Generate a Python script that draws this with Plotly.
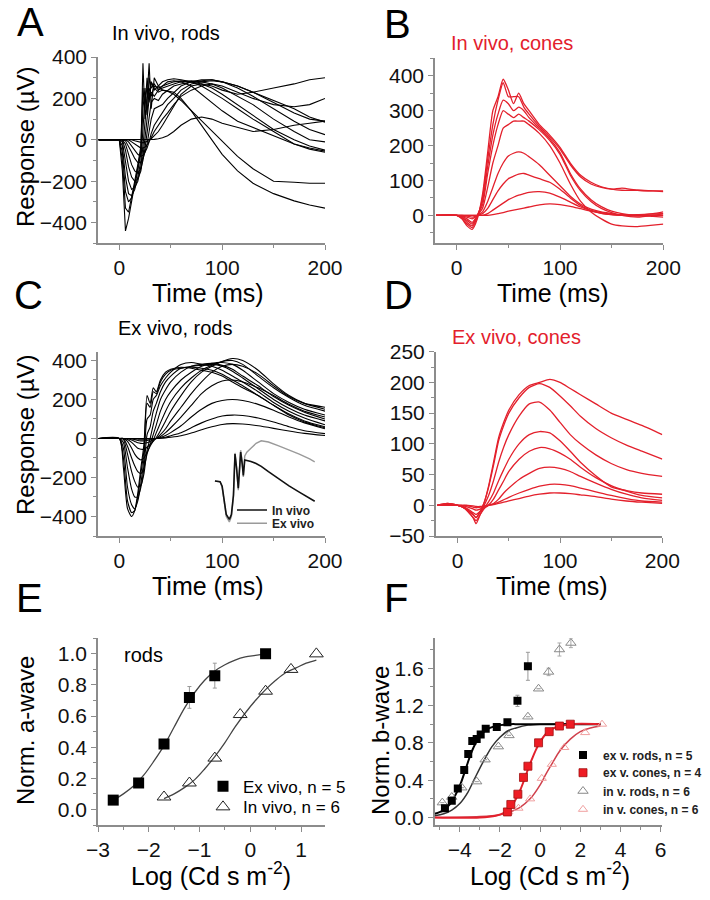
import plotly.graph_objects as go

W, H = 710, 900
FONT = "Liberation Sans, Arial, sans-serif"
RED = "#e3202c"

# ---------------- Panel A: in vivo rods (time ms, response uV) ----------------
tA = [-20, 0, 3, 6, 9, 12, 15, 18, 21, 23, 25, 27, 29, 31, 34, 38, 42, 47, 53, 60,
      70, 80, 90, 100, 115, 130, 150, 170, 185, 200]
A_rods_invivo = [
    [0, 0, -150, -440, -380, -300, -220, -150, -50, 370, 100, 200, 370, 150, 300, 260, 240, 235, 230, 200, 140, 70, 0, -70, -150, -210, -260, -295, -315, -330],
    [0, 0, -100, -330, -350, -280, -200, -120, -30, 250, 150, 300, 200, 280, 250, 230, 240, 235, 220, 190, 140, 90, 40, -10, -80, -140, -200, -205, -210, -210],
    [0, 0, -60, -250, -300, -280, -220, -150, -60, 150, 250, 120, 300, 250, 270, 240, 260, 280, 285, 280, 260, 220, 180, 140, 90, 60, 20, -20, -40, -55],
    [0, 0, -30, -180, -260, -270, -240, -180, -100, 50, 200, 250, 180, 280, 240, 260, 280, 290, 295, 290, 280, 260, 230, 200, 150, 100, 40, -20, -45, -60],
    [0, 0, -10, -100, -200, -240, -230, -200, -130, -30, 100, 200, 250, 210, 260, 250, 260, 270, 280, 285, 280, 270, 250, 220, 170, 120, 50, 0, -30, -50],
    [0, 0, 0, -50, -130, -180, -200, -190, -150, -80, 0, 100, 200, 230, 210, 240, 250, 260, 270, 280, 285, 280, 270, 250, 210, 170, 100, 40, 0, -10],
    [0, 0, 0, -20, -70, -120, -150, -160, -140, -100, -40, 30, 120, 180, 200, 190, 220, 240, 260, 270, 280, 285, 290, 280, 250, 210, 150, 90, 50, 25],
    [0, 0, 0, -5, -30, -60, -90, -110, -110, -90, -60, -20, 40, 100, 150, 160, 170, 200, 230, 260, 280, 290, 290, 280, 260, 230, 180, 130, 100, 90],
    [0, 0, 0, 0, -10, -30, -50, -70, -80, -75, -60, -40, -10, 30, 70, 100, 130, 170, 200, 240, 270, 280, 285, 280, 260, 230, 190, 150, 110, 85],
    [0, 0, 0, 0, 0, -10, -20, -30, -40, -40, -35, -25, -10, 10, 40, 70, 100, 130, 170, 210, 240, 260, 270, 260, 230, 200, 170, 160, 170, 200],
    [0, 0, 0, 0, 0, 0, -5, -10, -15, -15, -12, -8, -3, 5, 20, 40, 70, 110, 160, 220, 260, 270, 260, 240, 220, 230, 250, 270, 290, 300],
    [0, 0, 0, 0, 0, 0, 0, 0, 0, 0, 0, 0, 0, 0, 2, 5, 10, 20, 40, 70, 100, 110, 100, 80, 60, 40, 50, 70, 80, 90],
]

# ---------------- Panel B: in vivo cones ----------------
tB = [-20, 0, 5, 10, 15, 20, 25, 30, 35, 40, 45, 50, 55, 60, 65, 70, 80, 90, 100, 110,
      120, 130, 140, 150, 160, 175, 190, 200]
B_cones_invivo = [
    [0, 0, -10, -30, -40, -10, 60, 180, 300, 340, 390, 360, 320, 350, 320, 300, 260, 230, 195, 150, 115, 95, 82, 75, 72, 72, 70, 68],
    [0, 0, -8, -25, -35, -5, 50, 160, 260, 330, 380, 340, 340, 340, 310, 290, 255, 225, 190, 145, 110, 90, 80, 75, 78, 72, 70, 70],
    [0, 0, -5, -20, -30, 0, 40, 140, 230, 290, 330, 320, 300, 310, 300, 280, 250, 220, 180, 120, 75, 45, 25, 12, 5, 0, 5, 10],
    [0, 0, -5, -15, -25, 0, 30, 120, 200, 260, 300, 290, 280, 290, 280, 270, 245, 215, 175, 115, 70, 40, 20, 8, 0, -5, 0, 5],
    [0, 0, -3, -10, -20, 0, 20, 80, 150, 200, 250, 260, 270, 270, 270, 260, 235, 200, 150, 90, 40, 10, -10, -25, -30, -32, -28, -25],
    [0, 0, -2, -5, -10, 0, 10, 40, 80, 120, 150, 170, 178, 182, 178, 168, 145, 115, 85, 55, 32, 18, 10, 5, 0, 0, -3, -5],
    [0, 0, 0, -2, -5, 0, 5, 20, 45, 70, 90, 105, 112, 118, 120, 115, 105, 95, 75, 50, 28, 14, 6, 2, 0, 0, 0, 0],
    [0, 0, 0, 0, 0, 0, 0, 5, 15, 25, 35, 45, 52, 58, 62, 66, 68, 64, 52, 38, 24, 14, 8, 4, 2, 2, 4, 5],
    [0, 0, 0, 0, 0, 0, 0, 0, 2, 5, 8, 12, 15, 18, 21, 24, 30, 33, 31, 26, 19, 12, 6, 2, 0, -2, 0, 0],
]

# ---------------- Panel C: ex vivo rods ----------------
tC = [-20, 0, 4, 8, 12, 15, 18, 21, 24, 27, 30, 33, 36, 40, 45, 50, 60, 70, 80, 90,
      100, 110, 120, 135, 150, 165, 180, 200]
C_rods_exvivo = [
    [0, 0, -150, -360, -400, -370, -280, -150, -30, 220, 180, 260, 240, 300, 340, 355, 365, 360, 350, 340, 320, 290, 260, 220, 170, 120, 85, 55],
    [0, 0, -100, -320, -380, -370, -300, -180, -60, 180, 160, 240, 230, 290, 330, 350, 360, 365, 360, 350, 330, 300, 270, 220, 170, 125, 90, 60],
    [0, 0, -50, -250, -340, -360, -320, -230, -100, 100, 120, 200, 220, 270, 310, 340, 380, 390, 380, 370, 350, 320, 290, 240, 185, 140, 105, 70],
    [0, 0, -20, -150, -260, -300, -300, -250, -150, 20, 60, 140, 180, 240, 290, 320, 360, 370, 375, 380, 370, 345, 310, 255, 200, 155, 120, 90],
    [0, 0, -5, -80, -170, -220, -250, -240, -180, -60, 0, 70, 130, 200, 250, 290, 340, 370, 380, 385, 375, 355, 320, 270, 215, 170, 135, 100],
    [0, 0, 0, -40, -100, -140, -170, -180, -150, -80, -30, 20, 70, 140, 200, 240, 300, 340, 370, 385, 390, 380, 350, 290, 230, 185, 150, 120],
    [0, 0, 0, -15, -50, -80, -100, -110, -100, -70, -40, -10, 30, 80, 140, 190, 260, 310, 350, 375, 395, 400, 380, 320, 260, 210, 170, 140],
    [0, 0, 0, -5, -20, -35, -50, -55, -55, -45, -30, -15, 5, 40, 90, 140, 220, 290, 340, 370, 395, 410, 400, 350, 280, 220, 180, 150],
    [0, 0, 0, 0, -8, -15, -22, -25, -25, -22, -15, -8, 0, 20, 50, 90, 160, 230, 290, 340, 370, 380, 370, 330, 270, 215, 180, 160],
    [0, 0, 0, 0, -3, -6, -10, -12, -12, -10, -7, -3, 0, 10, 30, 55, 110, 170, 230, 270, 295, 300, 290, 260, 220, 175, 140, 110],
    [0, 0, 0, 0, 0, -2, -3, -4, -4, -3, -2, -1, 0, 5, 15, 30, 65, 110, 150, 180, 195, 200, 195, 175, 145, 110, 80, 50],
    [0, 0, 0, 0, 0, 0, -1, -1, -1, -1, 0, 0, 0, 2, 6, 14, 30, 55, 80, 100, 115, 120, 118, 105, 85, 60, 40, 25],
    [0, 0, 0, 0, 0, 0, 0, 0, 0, 0, 0, 0, 0, 1, 3, 6, 14, 28, 45, 60, 72, 76, 74, 65, 52, 38, 26, 15],
]

# inset in panel C (in vivo vs ex vivo, offset traces)
inset_t = [93, 98, 100, 102, 104, 107, 109, 111, 112.5, 114, 115.7, 117, 118, 119.5, 120.6,
           122, 124, 128, 133, 138, 145, 155, 165, 175, 185, 190]
inset_exvivo = [-218, -222, -250, -330, -400, -428, -400, -300, -74, -150, -265, -150, -60, -120, -197,
                -90, -70, -50, -25, -12, -18, -38, -58, -80, -105, -120]
inset_invivo = [-218, -222, -245, -320, -390, -415, -390, -290, -80, -150, -255, -150, -70, -130, -190,
                -110, -112, -118, -128, -143, -170, -208, -243, -275, -306, -322]

# ---------------- Panel D: ex vivo cones ----------------
tD = [-20, -10, 0, 5, 10, 15, 18, 22, 26, 30, 35, 40, 45, 50, 60, 70, 80, 90, 100, 110,
      120, 135, 150, 165, 180, 200]
D_cones_exvivo = [
    [0, 3, 0, -3, -8, -15, -20, -10, 5, 30, 70, 110, 135, 155, 180, 195, 200, 205, 200, 190, 180, 165, 150, 140, 130, 115],
    [0, 3, 0, -3, -8, -15, -20, -10, 5, 28, 65, 105, 130, 150, 175, 192, 198, 192, 178, 162, 145, 125, 110, 98, 88, 75],
    [0, 2, 0, -3, -10, -20, -30, -15, 0, 15, 40, 70, 95, 115, 145, 165, 168, 155, 135, 115, 100, 82, 68, 58, 52, 47],
    [0, 2, 0, -3, -10, -20, -25, -15, -5, 5, 20, 40, 58, 75, 100, 115, 120, 118, 105, 88, 70, 48, 30, 24, 20, 18],
    [0, 1, 0, -2, -6, -12, -15, -10, -5, 0, 10, 25, 40, 55, 75, 88, 94, 92, 85, 75, 62, 45, 32, 23, 16, 12],
    [0, 1, 0, -1, -3, -6, -8, -6, -3, 0, 3, 10, 20, 28, 42, 52, 60, 62, 60, 55, 47, 36, 26, 18, 12, 8],
    [0, 0, 0, 0, -1, -3, -4, -3, -2, 0, 2, 5, 9, 13, 20, 26, 31, 34, 34, 32, 28, 22, 16, 11, 7, 5],
    [0, 0, 0, 0, 0, -1, -2, -2, -1, 0, 1, 3, 5, 7, 11, 15, 18, 20, 20, 19, 17, 14, 10, 7, 5, 3],
]

# ---------------- Panel E: normalized a-wave ----------------
E_ex_x = [-2.7, -2.2, -1.7, -1.2, -0.7, 0.3]
E_ex_y = [0.06, 0.17, 0.42, 0.72, 0.86, 1.0]
E_ex_err = [0, 0, 0, 0.07, 0.08, 0]
E_in_x = [-1.7, -1.2, -0.7, -0.2, 0.3, 0.8, 1.3]
E_in_y = [0.08, 0.17, 0.33, 0.61, 0.76, 0.90, 1.0]
E_fit_ex_x = [-2.7, -2.5, -2.3, -2.1, -1.9, -1.7, -1.5, -1.3, -1.1, -0.9, -0.7, -0.5, -0.3, -0.1, 0.1, 0.3]
E_fit_ex_y = [0.06, 0.10, 0.15, 0.22, 0.31, 0.41, 0.53, 0.65, 0.75, 0.83, 0.89, 0.93, 0.96, 0.98, 0.99, 1.0]
E_fit_in_x = [-1.7, -1.5, -1.3, -1.1, -0.9, -0.7, -0.5, -0.3, -0.1, 0.1, 0.3, 0.5, 0.7, 0.9, 1.1, 1.3]
E_fit_in_y = [0.07, 0.10, 0.14, 0.19, 0.26, 0.34, 0.43, 0.53, 0.62, 0.70, 0.77, 0.83, 0.88, 0.91, 0.94, 0.96]

# ---------------- Panel F: normalized b-wave ----------------
F_exrod_x = [-4.74, -4.40, -4.10, -3.78, -3.58, -3.38, -3.16, -2.96, -2.71, -2.16, -1.63, -1.13, -0.61]
F_exrod_y = [0.10, 0.18, 0.31, 0.51, 0.68, 0.82, 0.84, 0.89, 0.95, 0.97, 1.02, 1.25, 1.62]
F_exrod_err = [0, 0, 0, 0, 0, 0, 0, 0, 0, 0, 0, 0.06, 0.15]
F_excone_x = [-1.63, -1.46, -1.11, -0.83, -0.61, -0.08, 0.45, 0.96, 1.50]
F_excone_y = [0.06, 0.14, 0.25, 0.43, 0.55, 0.80, 0.92, 0.98, 1.0]
F_inrod_x = [-4.87, -4.40, -3.90, -3.16, -2.74, -2.08, -1.55, -0.61, -0.08, 0.42, 0.96, 1.53]
F_inrod_y = [0.16, 0.22, 0.32, 0.385, 0.62, 0.76, 0.88, 1.08, 1.38, 1.56, 1.80, 1.87]
F_inrod_err = [0, 0, 0, 0, 0, 0, 0, 0, 0, 0.04, 0.07, 0.05]
F_incone_x = [-1.58, -1.08, -0.50, 0.08, 0.58, 1.20, 2.24, 3.08]
F_incone_y = [0.06, 0.10, 0.20, 0.42, 0.57, 0.75, 0.91, 1.0]
F_fit_exrod_x = [-5.25, -4.8, -4.5, -4.2, -4.0, -3.8, -3.6, -3.4, -3.2, -3.0, -2.8, -2.5, -2.0, -1.5, -1.0, 3.0]
F_fit_exrod_y = [0.04, 0.08, 0.14, 0.25, 0.34, 0.46, 0.59, 0.71, 0.80, 0.87, 0.92, 0.96, 0.99, 1.0, 1.0, 1.0]
F_fit_inrod_x = [-5.25, -4.8, -4.4, -4.0, -3.6, -3.3, -3.0, -2.7, -2.4, -2.0, -1.6, -1.2, -0.6, 0.0, 3.0]
F_fit_inrod_y = [0.02, 0.04, 0.08, 0.15, 0.27, 0.40, 0.53, 0.65, 0.76, 0.86, 0.93, 0.96, 0.99, 1.0, 1.0]
F_fit_excone_x = [-5.25, -3.0, -2.2, -1.8, -1.5, -1.2, -1.0, -0.8, -0.6, -0.4, -0.2, 0.0, 0.3, 0.6, 1.0, 1.5, 3.0]
F_fit_excone_y = [0.0, 0.0, 0.02, 0.05, 0.10, 0.20, 0.29, 0.40, 0.52, 0.63, 0.73, 0.81, 0.90, 0.95, 0.98, 1.0, 1.0]
F_fit_incone_x = [-5.25, -3.0, -2.0, -1.5, -1.0, -0.5, 0.0, 0.3, 0.6, 1.0, 1.5, 2.0, 2.5, 3.0]
F_fit_incone_y = [0.0, 0.01, 0.03, 0.06, 0.11, 0.20, 0.35, 0.47, 0.58, 0.72, 0.84, 0.92, 0.96, 0.98]


def dx(a, b):
    return [a / W, b / W]


def dy(top, bottom):
    return [1 - bottom / H, 1 - top / H]


fig = go.Figure()

for v in A_rods_invivo:
    fig.add_trace(go.Scatter(x=tA, y=v, mode="lines", line=dict(color="black", width=1.1),
                             showlegend=False, xaxis="x", yaxis="y"))
for v in B_cones_invivo:
    fig.add_trace(go.Scatter(x=tB, y=v, mode="lines", line=dict(color=RED, width=1.3, shape="spline", smoothing=0.6),
                             showlegend=False, xaxis="x2", yaxis="y2"))
for v in C_rods_exvivo:
    fig.add_trace(go.Scatter(x=tC, y=v, mode="lines", line=dict(color="black", width=1.1, shape="spline", smoothing=0.6),
                             showlegend=False, xaxis="x3", yaxis="y3"))
fig.add_trace(go.Scatter(x=inset_t, y=inset_exvivo, mode="lines", name="Ex vivo",
                         line=dict(color="#9a9a9a", width=1.4), legend="legend8", xaxis="x3", yaxis="y3"))
fig.add_trace(go.Scatter(x=inset_t, y=inset_invivo, mode="lines", name="In vivo",
                         line=dict(color="#111111", width=1.6), legend="legend7", xaxis="x3", yaxis="y3"))
for v in D_cones_exvivo:
    fig.add_trace(go.Scatter(x=tD, y=v, mode="lines", line=dict(color=RED, width=1.3, shape="spline", smoothing=0.6),
                             showlegend=False, xaxis="x4", yaxis="y4"))

# Panel E
fig.add_trace(go.Scatter(x=E_fit_ex_x, y=E_fit_ex_y, mode="lines", line=dict(color="#444", width=1.3, shape="spline"),
                         showlegend=False, xaxis="x5", yaxis="y5"))
fig.add_trace(go.Scatter(x=E_fit_in_x, y=E_fit_in_y, mode="lines", line=dict(color="#444", width=1.3, shape="spline"),
                         showlegend=False, xaxis="x5", yaxis="y5"))
fig.add_trace(go.Scatter(x=E_ex_x, y=E_ex_y, mode="markers", name="Ex vivo, n = 5",
                         marker=dict(symbol="square", size=11, color="black"),
                         error_y=dict(type="data", array=E_ex_err, color="#999", thickness=1, width=2),
                         legend="legend", xaxis="x5", yaxis="y5"))
fig.add_trace(go.Scatter(x=E_in_x, y=E_in_y, mode="markers", name="In vivo, n = 6",
                         marker=dict(symbol="triangle-up-open", size=12, color="#222", line=dict(width=1)),
                         legend="legend2", xaxis="x5", yaxis="y5"))

# Panel F
fig.add_trace(go.Scatter(x=F_fit_inrod_x, y=F_fit_inrod_y, mode="lines", line=dict(color="#333", width=1.5, shape="spline"),
                         showlegend=False, xaxis="x6", yaxis="y6"))
fig.add_trace(go.Scatter(x=F_fit_exrod_x, y=F_fit_exrod_y, mode="lines", line=dict(color="black", width=2, shape="spline"),
                         showlegend=False, xaxis="x6", yaxis="y6"))
fig.add_trace(go.Scatter(x=F_fit_incone_x, y=F_fit_incone_y, mode="lines", line=dict(color="#d0404c", width=1.5, shape="spline"),
                         showlegend=False, xaxis="x6", yaxis="y6"))
fig.add_trace(go.Scatter(x=F_fit_excone_x, y=F_fit_excone_y, mode="lines", line=dict(color=RED, width=2, shape="spline"),
                         showlegend=False, xaxis="x6", yaxis="y6"))
fig.add_trace(go.Scatter(x=F_inrod_x, y=F_inrod_y, mode="markers", name="in v. rods, n = 6",
                         marker=dict(symbol="triangle-up-open", size=9, color="#888", line=dict(width=1)),
                         error_y=dict(type="data", array=F_inrod_err, color="#aaa", thickness=1, width=2),
                         legend="legend5", xaxis="x6", yaxis="y6"))
fig.add_trace(go.Scatter(x=F_incone_x, y=F_incone_y, mode="markers", name="in v. cones, n = 6",
                         marker=dict(symbol="triangle-up-open", size=8, color="#f0a0a0", line=dict(width=1)),
                         legend="legend6", xaxis="x6", yaxis="y6"))
fig.add_trace(go.Scatter(x=F_exrod_x, y=F_exrod_y, mode="markers", name="ex v. rods, n = 5",
                         marker=dict(symbol="square", size=8, color="black"),
                         error_y=dict(type="data", array=F_exrod_err, color="#999", thickness=1, width=2),
                         legend="legend3", xaxis="x6", yaxis="y6"))
fig.add_trace(go.Scatter(x=F_excone_x, y=F_excone_y, mode="markers", name="ex v. cones, n = 4",
                         marker=dict(symbol="square", size=8, color="#ee1c24", line=dict(color="#a01010", width=0.8)),
                         legend="legend4", xaxis="x6", yaxis="y6"))

AX = dict(showline=True, linecolor="#8c8c8c", linewidth=1.5, ticks="outside", ticklen=5, tickwidth=1.2,
          tickcolor="#8c8c8c", showgrid=False, zeroline=False, automargin=False,
          tickfont=dict(family=FONT, size=21, color="#111"))


def xax(domain, rng, dt, mdt, anchor):
    return dict(AX, domain=domain, range=rng, dtick=dt, tick0=0, anchor=anchor,
                minor=dict(dtick=mdt, ticks="outside", ticklen=3, tickcolor="#8c8c8c", showgrid=False))


def yax(domain, rng, dt, mdt, anchor, fmt=None):
    d = dict(AX, domain=domain, range=rng, dtick=dt, tick0=0, anchor=anchor,
             minor=dict(dtick=mdt, ticks="outside", ticklen=3, tickcolor="#8c8c8c", showgrid=False))
    if fmt:
        d["tickformat"] = fmt
    return d


leg = dict(bgcolor="rgba(0,0,0,0)", borderwidth=0, xanchor="left", yanchor="middle", itemwidth=30,
           tracegroupgap=0, xref="container", yref="container")


def legend_at(xp, yp, size, color="black", weight="normal"):
    return dict(leg, x=xp / W, y=1 - yp / H, font=dict(family=FONT, size=size, color=color, weight=weight))


fig.update_layout(
    width=W, height=H, margin=dict(l=0, r=0, t=0, b=0, autoexpand=False),
    plot_bgcolor="white", paper_bgcolor="white",
    font=dict(family=FONT, color="black"),
    xaxis=xax(dx(98, 325), [-20.7, 200], 100, 50, "y"),
    yaxis=yax(dy(57, 243.3), [-500, 400], 200, 100, "x"),
    xaxis2=xax(dx(435, 663.3), [-21, 200], 100, 50, "y2"),
    yaxis2=yax(dy(58.3, 243.3), [-80, 450], 100, 50, "x2"),
    xaxis3=xax(dx(98, 325), [-20.7, 200], 100, 50, "y3"),
    yaxis3=yax(dy(351.7, 536), [-500, 445], 200, 100, "x3"),
    xaxis4=xax(dx(435.7, 662.3), [-21.5, 200], 100, 50, "y4"),
    yaxis4=yax(dy(351.7, 536), [-50, 250], 50, 25, "x4"),
    xaxis5=xax(dx(98, 325), [-3, 1.47], 1, 0.5, "y5"),
    yaxis5=yax(dy(638.3, 825), [-0.1, 1.1], 0.2, 0.1, "x5", ".1f"),
    xaxis6=xax(dx(434.7, 661.7), [-5.25, 6.05], 2, 1, "y6"),
    yaxis6=yax(dy(638.3, 825), [-0.08, 1.92], 0.4, 0.2, "x6", ".1f"),
    legend=legend_at(203, 786.7, 17),
    legend2=legend_at(203, 807.3, 17),
    legend3=legend_at(563, 755, 12, "#222", "bold"),
    legend4=legend_at(563, 772.7, 12, "#222", "bold"),
    legend5=legend_at(563, 791, 12, "#222", "bold"),
    legend6=legend_at(563, 809.3, 12, "#222", "bold"),
    legend7=legend_at(232, 510, 12, "#222", "bold"),
    legend8=legend_at(232, 523.3, 12, "#222", "bold"),
)


def ann(text, xp, yp, size, color="black", angle=0):
    fig.add_annotation(text=text, x=xp / W, y=1 - yp / H, xref="paper", yref="paper",
                       showarrow=False, xanchor="center", yanchor="middle", textangle=angle,
                       font=dict(family=FONT, size=size, color=color))


for letter, xp, yp in [("A", 30, 22), ("B", 397, 24), ("C", 28, 295), ("D", 398, 295), ("E", 29, 598), ("F", 396, 598)]:
    ann(letter, xp, yp, 40)

ann("In vivo, rods", 166, 33, 20)
ann("In vivo, cones", 512, 43, 20, RED)
ann("Ex vivo, rods", 175, 328, 20)
ann("Ex vivo, cones", 516, 337, 20, RED)
for xp, yp in [(208, 293), (553, 293), (208, 586), (552, 586)]:
    ann("Time (ms)", xp, yp, 25)
ann("Response (µV)", 25, 147, 24, angle=-90)
ann("Response (µV)", 25, 435, 24, angle=-90)
ann("Norm. a-wave", 25, 731, 24, angle=-90)
ann("Norm. b-wave", 380, 740, 24, angle=-90)
ann("Log (Cd s m<sup>-2</sup>)", 211, 874, 25)
ann("Log (Cd s m<sup>-2</sup>)", 550, 874, 25)
ann("rods", 143, 655, 20)

fig.write_html("out.html", config={"displayModeBar": False},
               post_script="document.body.style.margin='0';document.body.style.overflow='hidden';")
